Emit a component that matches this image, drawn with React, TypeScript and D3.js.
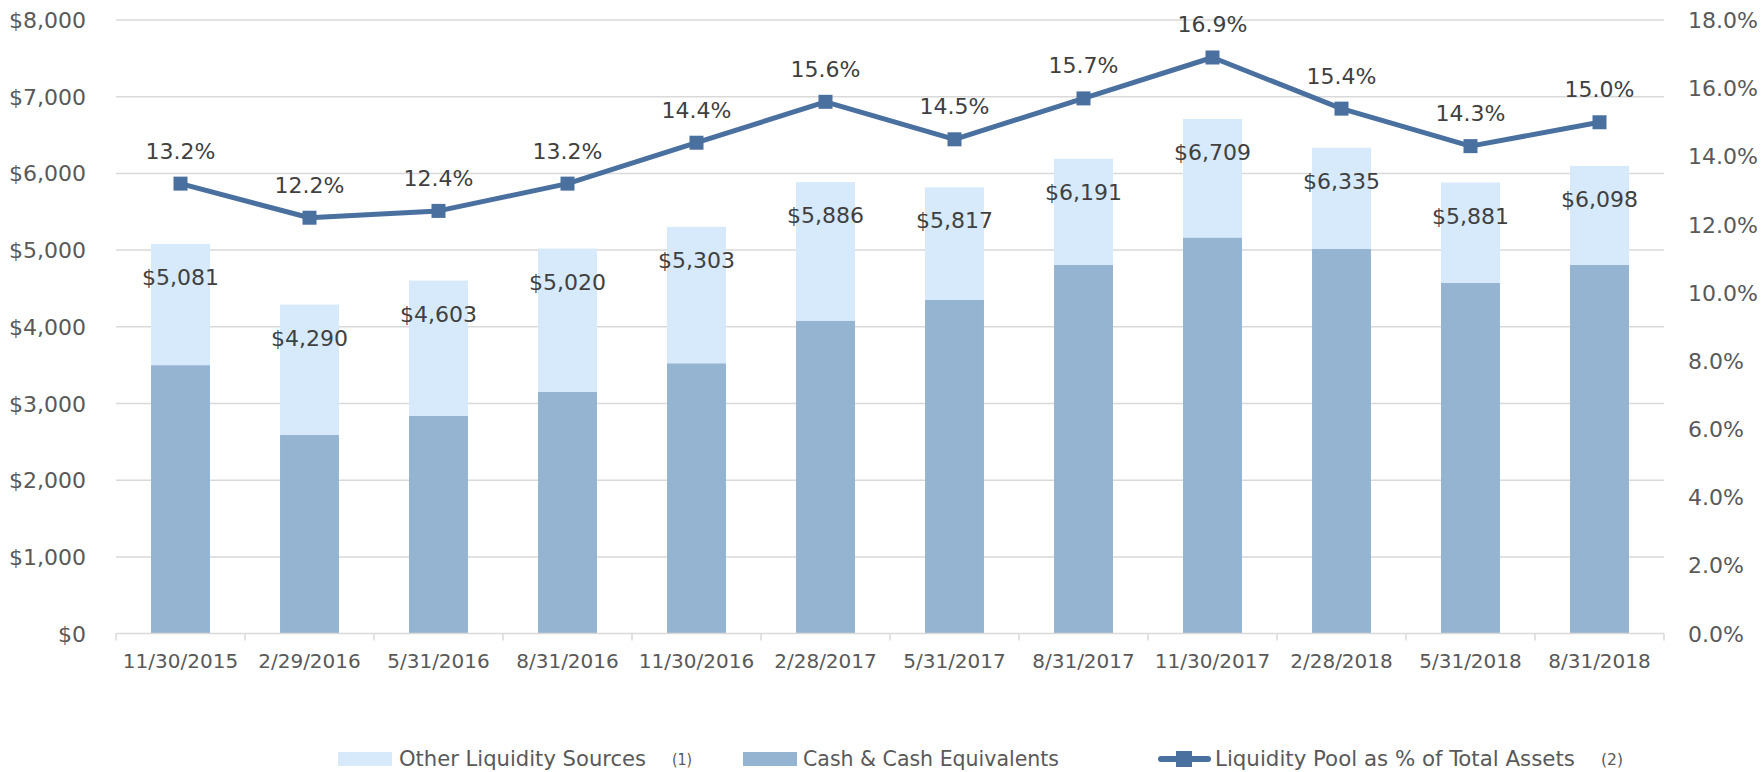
import React from "react";
import * as d3 from "d3";

const categories = ["11/30/2015", "2/29/2016", "5/31/2016", "8/31/2016", "11/30/2016", "2/28/2017", "5/31/2017", "8/31/2017", "11/30/2017", "2/28/2018", "5/31/2018", "8/31/2018"];
const totalLabels = [5081, 4290, 4603, 5020, 5303, 5886, 5817, 6191, 6709, 6335, 5881, 6098];
const cashEquivalents = [3500, 2590, 2840, 3150, 3525, 4080, 4350, 4810, 5165, 5015, 4575, 4810];
const otherSources = [1581, 1700, 1763, 1870, 1778, 1806, 1467, 1381, 1544, 1320, 1306, 1288];
const poolPct = [13.2, 12.2, 12.4, 13.2, 14.4, 15.6, 14.5, 15.7, 16.9, 15.4, 14.3, 15.0];
const leftTicks = [0, 1000, 2000, 3000, 4000, 5000, 6000, 7000, 8000];
const rightTicks = [0, 2, 4, 6, 8, 10, 12, 14, 16, 18];

const W = 1764, H = 772;
const L = 116, R = 1664, T = 20, B = 633.6;
const LIGHT = "#d6eafc", DARK = "#95b4d1", LINE = "#4a70a0";
const AXIS_TXT = "#595959", LBL_TXT = "#404040", GRID = "#d9d9d9";
const FONT = "DejaVu Sans, Liberation Sans, sans-serif";
const CFONT = "DejaVu Sans Condensed, Liberation Sans Narrow, Liberation Sans, sans-serif";

export default function App() {
  const x = d3.scaleBand<string>().domain(categories).range([L, R]).paddingInner(0.543).paddingOuter(0.2715);
  const y = d3.scaleLinear().domain([0, 8000]).range([B, T]);
  const y2 = d3.scaleLinear().domain([0, 18]).range([B, T]);
  const step = x.step();
  const cx = (c: string) => (x(c) as number) + x.bandwidth() / 2;

  const stack = d3.stack<any>().keys(["cash", "other"])(
    categories.map((c, i) => ({ cat: c, cash: cashEquivalents[i], other: otherSources[i] }))
  );

  const line = d3.line<number>().x((_, i) => cx(categories[i])).y((d) => y2(d));
  const fmt = d3.format("$,");
  const LY = 766;

  return (
    <div style={{ position: "absolute", left: 0, top: 0 }}>
      <svg width={W} height={H} style={{ display: "block", background: "#fff" }}>
        {leftTicks.filter((t) => t > 0).map((t) => (
          <line key={t} x1={L} x2={R} y1={y(t)} y2={y(t)} stroke={GRID} strokeWidth={1.5} />
        ))}
        {stack.map((layer, li) => (
          <g key={li} fill={li === 0 ? DARK : LIGHT}>
            {layer.map((d, i) => (
              <rect key={i} x={x(categories[i])} width={x.bandwidth()} y={y(d[1])} height={y(d[0]) - y(d[1])} />
            ))}
          </g>
        ))}
        <line x1={L} x2={R} y1={B} y2={B} stroke={GRID} strokeWidth={1.5} />
        {d3.range(categories.length + 1).map((i) => (
          <line key={i} x1={L + i * step} x2={L + i * step} y1={B} y2={B + 7} stroke={GRID} strokeWidth={1.5} />
        ))}
        {leftTicks.map((t) => (
          <text key={t} x={86} y={y(t) + 8} textAnchor="end" fontFamily={FONT} fontSize={22} fill={AXIS_TXT}>
            {fmt(t)}
          </text>
        ))}
        {rightTicks.map((t) => (
          <text key={t} x={1688} y={y2(t) + 8} textAnchor="start" fontFamily={FONT} fontSize={22} fill={AXIS_TXT}>
            {t.toFixed(1) + "%"}
          </text>
        ))}
        {categories.map((c) => (
          <text key={c} x={cx(c)} y={668} textAnchor="middle" fontFamily={FONT} fontSize={20} fill={AXIS_TXT}>
            {c}
          </text>
        ))}
        {categories.map((c, i) => (
          <text key={c} x={cx(c)} y={y(totalLabels[i]) + 41} textAnchor="middle" fontFamily={FONT} fontSize={22} fill={LBL_TXT}>
            {fmt(totalLabels[i])}
          </text>
        ))}
        <path d={line(poolPct) as string} fill="none" stroke={LINE} strokeWidth={5} strokeLinejoin="round" />
        {poolPct.map((p, i) => (
          <rect key={i} x={cx(categories[i]) - 7} y={y2(p) - 7} width={14} height={14} fill={LINE} />
        ))}
        {poolPct.map((p, i) => (
          <text key={i} x={cx(categories[i])} y={y2(p) - 25} textAnchor="middle" fontFamily={FONT} fontSize={22} fill={LBL_TXT}>
            {p.toFixed(1) + "%"}
          </text>
        ))}
        {/* legend */}
        <rect x={338} y={752} width={54} height={14} fill={LIGHT} />
        <text x={399} y={LY} fontFamily={CFONT} fontSize={22} fill={AXIS_TXT} textLength={247} lengthAdjust="spacingAndGlyphs">
          Other Liquidity Sources
        </text>
        <text x={672} y={LY - 1} fontFamily={CFONT} fontSize={16} fill={AXIS_TXT} textLength={20} lengthAdjust="spacingAndGlyphs">
          (1)
        </text>
        <rect x={743} y={752} width={54} height={14} fill={DARK} />
        <text x={803} y={LY} fontFamily={CFONT} fontSize={22} fill={AXIS_TXT} textLength={256} lengthAdjust="spacingAndGlyphs">
          Cash &amp; Cash Equivalents
        </text>
        <line x1={1161} x2={1208} y1={759} y2={759} stroke={LINE} strokeWidth={6} strokeLinecap="round" />
        <rect x={1176} y={751} width={16} height={16} fill={LINE} />
        <text x={1215} y={LY} fontFamily={CFONT} fontSize={22} fill={AXIS_TXT} textLength={360} lengthAdjust="spacingAndGlyphs">
          Liquidity Pool as % of Total Assets
        </text>
        <text x={1601} y={LY - 1} fontFamily={CFONT} fontSize={16} fill={AXIS_TXT} textLength={22} lengthAdjust="spacingAndGlyphs">
          (2)
        </text>
      </svg>
    </div>
  );
}
